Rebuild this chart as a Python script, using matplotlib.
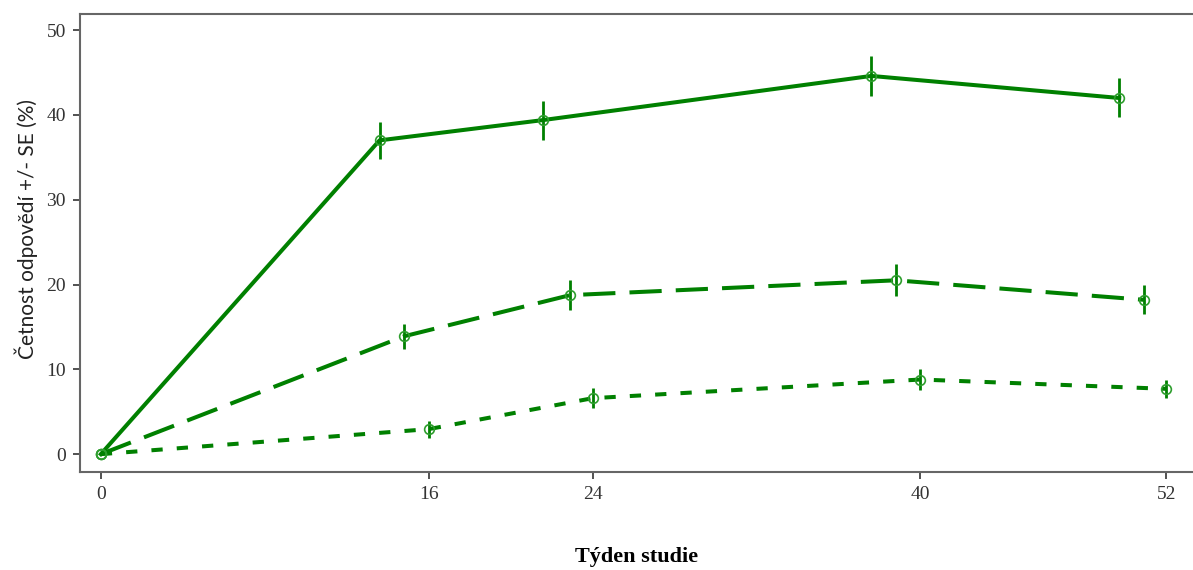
import matplotlib.pyplot as plt

# tyden studie, cetnost odpovedi +/- SE (%)
weeks = [0, 16, 24, 40, 52]

x_solid = [0, 13.6, 21.6, 37.6, 49.7]
y_solid = [0, 37.0, 39.4, 44.6, 42.0]
se_solid = [0, 2.2, 2.3, 2.4, 2.3]

x_dash = [0, 14.8, 22.9, 38.8, 50.9]
y_dash = [0, 13.9, 18.75, 20.5, 18.2]
se_dash = [0, 1.5, 1.8, 1.9, 1.7]

x_dot = [0, 16, 24, 40, 52]
y_dot = [0, 2.95, 6.6, 8.8, 7.7]
se_dot = [0, 1.0, 1.2, 1.2, 1.1]

green = "#008000"

fig = plt.figure(figsize=(11.93, 5.70), dpi=100)
ax = fig.add_axes([0.067, 0.172, 0.933, 0.8034])

series = [
    (x_solid, y_solid, se_solid, "-"),
    (x_dash, y_dash, se_dash, (0, (8, 3.5))),
    (x_dot, y_dot, se_dot, (0, (2.8, 3.5))),
]
for xs, ys, se, ls in series:
    ax.plot(xs, ys, color=green, lw=2.9, ls=ls, zorder=2)
    ax.errorbar(xs, ys, yerr=se, fmt="o", color=green, ecolor=green,
                elinewidth=2.0, capsize=0, ms=7, mfc="none", mec="#2e9e2e",
                mew=1.2, zorder=3)

ax.set_xlim(-1.02, 53.3)
ax.set_ylim(-2.1, 51.9)
ax.set_xticks(weeks)
ax.set_yticks([0, 10, 20, 30, 40, 50])

for s in ["left", "bottom", "top"]:
    ax.spines[s].set_color("#666666")
    ax.spines[s].set_linewidth(1.5)
ax.spines["right"].set_visible(False)
ax.tick_params(colors="#333333", length=5, width=1.2, labelsize=14, pad=5)
for lab in ax.get_xticklabels() + ax.get_yticklabels():
    lab.set_fontfamily("Liberation Serif")
    lab.set_color("#333333")

ax.set_ylabel("Četnost odpovědí +/- SE (%)", fontsize=15, family="Lato",
              color="#222222", labelpad=8)
ax.yaxis.set_label_coords(-0.038, 0.53)
ax.set_xlabel("Týden studie", fontsize=16, family="Liberation Serif",
              fontweight="bold", labelpad=32)

fig.savefig("out.png", dpi=100)
